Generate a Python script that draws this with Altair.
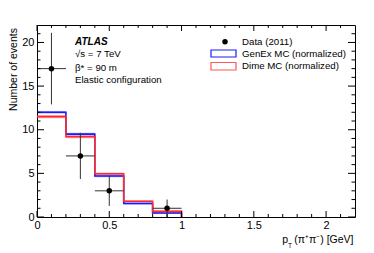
import altair as alt
import pandas as pd

# ---------------- data ----------------
bin_lo = [0.0, 0.2, 0.4, 0.6, 0.8]
bin_hi = [0.2, 0.4, 0.6, 0.8, 1.0]
genex = [12.0, 9.5, 4.7, 1.55, 0.45]
genex_err = [0.15, 0.15, 0.15, 0.12, 0.12]
dime = [11.5, 9.2, 4.95, 1.8, 0.65]
dime_err = [0.18, 0.18, 0.15, 0.12, 0.12]

data_x = [0.1, 0.3, 0.5, 0.9]
data_y = [17, 7, 3, 1]
data_ylo = [12.9, 4.35, 1.27, 0.0]
data_yhi = [21.1, 9.65, 4.73, 2.0]
data_xlo = [0.0, 0.2, 0.4, 0.8]
data_xhi = [0.2, 0.4, 0.6, 1.0]

x_major = [0, 0.5, 1, 1.5, 2]
x_minor = [0.1, 0.2, 0.3, 0.4, 0.6, 0.7, 0.8, 0.9, 1.1, 1.2, 1.3, 1.4,
           1.6, 1.7, 1.8, 1.9, 2.1]
y_major = [0, 5, 10, 15, 20]
y_minor = [1, 2, 3, 4, 6, 7, 8, 9, 11, 12, 13, 14, 16, 17, 18, 19, 21]

W, H = 318, 192
FONT = "Liberation Sans"
BLUE = "#1a1aff"
RED = "#ff2a2a"

xscale = alt.Scale(domain=[0, 2.2], nice=False, zero=False)
yscale = alt.Scale(domain=[0, 22], nice=False, zero=False)
xaxis = alt.Axis(values=x_major, ticks=False, domain=False, grid=False, format="~g",
                 labelFontSize=11, labelFont=FONT, labelColor="black",
                 labelPadding=2, title=None, labelFlush=False)
yaxis = alt.Axis(values=y_major, ticks=False, domain=False, grid=False, format="~g",
                 labelFontSize=11, labelFont=FONT, labelColor="black",
                 labelPadding=3, title="Number of events", titleFont=FONT,
                 titleFontSize=10.5, titleFontWeight="normal", titleColor="black",
                 titleAngle=270, titleAlign="center", titleBaseline="alphabetic",
                 titleX=-20.5, titleY=44)

hist = pd.DataFrame({
    "lo": bin_lo * 2, "hi": bin_hi * 2,
    "v": genex + dime,
    "vlo": [v - e for v, e in zip(genex, genex_err)] + [v - e for v, e in zip(dime, dime_err)],
    "vhi": [v + e for v, e in zip(genex, genex_err)] + [v + e for v, e in zip(dime, dime_err)],
    "s": ["GenEx"] * 5 + ["Dime"] * 5,
})
steps = pd.DataFrame({
    "x": bin_lo + [bin_hi[-1]] + bin_lo + [bin_hi[-1]],
    "v": genex + [0] + dime + [0],
    "s": ["GenEx"] * 6 + ["Dime"] * 6,
})
pts = pd.DataFrame({"x": data_x, "y": data_y, "ylo": data_ylo, "yhi": data_yhi,
                    "xlo": data_xlo, "xhi": data_xhi})

color = alt.Color("s:N", scale=alt.Scale(domain=["GenEx", "Dime"], range=[BLUE, RED]),
                  legend=None)

bands = alt.Chart(hist).mark_rect(opacity=0.35).encode(
    x=alt.X("lo:Q", scale=xscale, axis=xaxis), x2="hi:Q",
    y=alt.Y("vlo:Q", scale=yscale, axis=yaxis), y2="vhi:Q",
    color=color)

lines = alt.Chart(steps).mark_line(interpolate="step-after", strokeWidth=1.6).encode(
    x=alt.X("x:Q", scale=xscale, axis=xaxis),
    y=alt.Y("v:Q", scale=yscale, axis=yaxis),
    color=color, detail="s:N")

vbars = alt.Chart(pts).mark_rule(color="#333333", strokeWidth=1).encode(
    x=alt.X("x:Q", scale=xscale, axis=xaxis),
    y=alt.Y("ylo:Q", scale=yscale, axis=yaxis), y2="yhi:Q")
hbars = alt.Chart(pts).mark_rule(color="#333333", strokeWidth=1).encode(
    x=alt.X("xlo:Q", scale=xscale, axis=xaxis), x2="xhi:Q",
    y=alt.Y("y:Q", scale=yscale, axis=yaxis))
dots = alt.Chart(pts).mark_circle(color="black", opacity=1, size=30).encode(
    x=alt.X("x:Q", scale=xscale, axis=xaxis),
    y=alt.Y("y:Q", scale=yscale, axis=yaxis))

# ---- inward ticks on all four sides ----
def xticks(vals, L):
    df = pd.DataFrame({"t": vals})
    b = alt.Chart(df).mark_rule(color="black", strokeWidth=1).encode(
        x=alt.X("t:Q", scale=xscale, axis=xaxis), y=alt.value(H), y2=alt.value(H - L))
    t = alt.Chart(df).mark_rule(color="black", strokeWidth=1).encode(
        x=alt.X("t:Q", scale=xscale, axis=xaxis), y=alt.value(0), y2=alt.value(L))
    return [b, t]

def yticks(vals, L):
    df = pd.DataFrame({"t": vals})
    l = alt.Chart(df).mark_rule(color="black", strokeWidth=1).encode(
        y=alt.Y("t:Q", scale=yscale, axis=yaxis), x=alt.value(0), x2=alt.value(L))
    r = alt.Chart(df).mark_rule(color="black", strokeWidth=1).encode(
        y=alt.Y("t:Q", scale=yscale, axis=yaxis), x=alt.value(W), x2=alt.value(W - L))
    return [l, r]

tick_layers = xticks(x_major, 6) + xticks(x_minor, 3) + yticks(y_major, 7) + yticks(y_minor, 3.5)

# ---- text annotations ----
def txt(s, x, y, size=9.7, weight="normal", style="normal", align="left", baseline="middle"):
    return alt.Chart(pd.DataFrame({"t": [s]})).mark_text(
        font=FONT, fontSize=size, fontWeight=weight, fontStyle=style, align=align,
        baseline=baseline, color="black").encode(
        text="t:N", x=alt.value(x), y=alt.value(y))

labels = [
    txt("ATLAS", 38, 17.3, size=10, weight="bold", style="italic"),
    txt("√s = 7 TeV", 38, 28.5, size=9.7),
    txt("β* = 90 m", 38, 42.7, size=9.7),
    txt("Elastic configuration", 38, 55, size=9.7),
    txt("Data (2011)", 205, 16.7, size=9.7),
    txt("GenEx MC (normalized)", 205, 28.5, size=9.7),
    txt("Dime MC (normalized)", 205, 41, size=9.7),
    txt("(π⁺π⁻) [GeV]", 316.5, 217.5, size=10.5, align="right", baseline="alphabetic"),
    txt("p", 245.3, 217.5, size=10.5, baseline="alphabetic"),
    txt("T", 251, 223, size=6.5, baseline="alphabetic"),
]

leg_blue = alt.Chart(pd.DataFrame({"a": [0]})).mark_rect(
    fill="white", stroke=BLUE, strokeWidth=1.2).encode(
    x=alt.value(174), x2=alt.value(199), y=alt.value(25), y2=alt.value(32))
leg_red = alt.Chart(pd.DataFrame({"a": [0]})).mark_rect(
    fill="white", stroke=RED, strokeWidth=1.2, strokeOpacity=0.8).encode(
    x=alt.value(174), x2=alt.value(199), y=alt.value(37.5), y2=alt.value(45))
leg_dot = alt.Chart(pd.DataFrame({"a": [0]})).mark_circle(
    color="black", opacity=1, size=30).encode(x=alt.value(188), y=alt.value(16.7))

chart = alt.layer(
    bands, lines, vbars, hbars, dots, *tick_layers, leg_blue, leg_red, leg_dot, *labels
).properties(
    width=W, height=H,
    autosize=alt.AutoSizeParams(type="none"),
    padding={"left": 29, "top": 17, "right": 11, "bottom": 36},
).configure_view(stroke="black", strokeWidth=1)

chart.save("out.html", embed_options={"renderer": "svg", "actions": False})
